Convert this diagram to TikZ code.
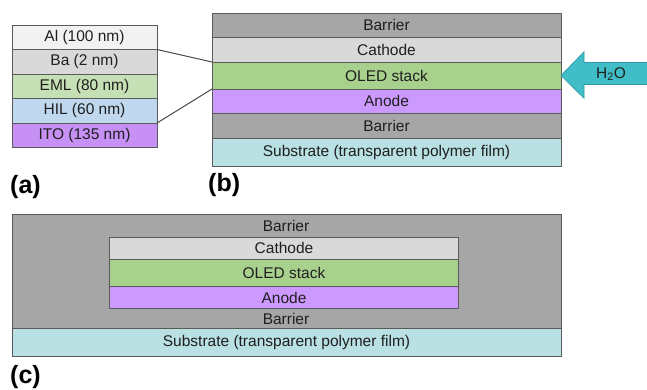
\documentclass[tikz,border=0pt]{standalone}
\usepackage{fontspec}
\setmainfont{Liberation Sans}
\definecolor{bordergray}{HTML}{5A5A5A}
\definecolor{barrier}{HTML}{A6A6A6}
\definecolor{cathode}{HTML}{D9D9D9}
\definecolor{oled}{HTML}{A9D18E}
\definecolor{anode}{HTML}{CC99FF}
\definecolor{substrate}{HTML}{B9E0E3}
\definecolor{al}{HTML}{F2F2F2}
\definecolor{eml}{HTML}{C5E0B4}
\definecolor{hil}{HTML}{C0D8EE}
\definecolor{ito}{HTML}{C690F5}
\definecolor{water}{HTML}{40BDC7}
\definecolor{waterdark}{HTML}{2E9AA4}
\definecolor{txt}{HTML}{1F1F1F}
\begin{document}
\begin{tikzpicture}[x=1pt,y=-1pt,
  layer/.style={draw=bordergray, line width=0.8pt, inner sep=0pt, outer sep=0pt,
    text=txt, font=\fontsize{15.5}{16}\selectfont},
  plain/.style={inner sep=0pt, text=txt, font=\fontsize{15.5}{16}\selectfont},
  panel/.style={inner sep=0pt, anchor=west, text=black, font=\fontsize{25}{26}\selectfont\bfseries},
  link/.style={draw=bordergray!80!black, line width=1pt}]
\useasboundingbox (0,0) rectangle (647,389);
% (a)
\node[layer, fill=al,  minimum width=145pt, minimum height=24.5pt] (al)  at (84.5,37.25) {Al (100 nm)};
\node[layer, fill=cathode, minimum width=145pt, minimum height=24.5pt] (ba)  at (84.5,61.75) {Ba (2 nm)};
\node[layer, fill=eml, minimum width=145pt, minimum height=24.5pt] (eml) at (84.5,86.25) {EML (80 nm)};
\node[layer, fill=hil, minimum width=145pt, minimum height=24.5pt] (hil) at (84.5,110.75) {HIL (60 nm)};
\node[layer, fill=ito, minimum width=145pt, minimum height=24.5pt] (ito) at (84.5,135.25) {ITO (135 nm)};
% (b)
\node[layer, fill=barrier,   minimum width=349pt, minimum height=24pt] (bb1) at (386.5,25) {Barrier};
\node[layer, fill=cathode,   minimum width=349pt, minimum height=25pt] (bca) at (386.5,49.5) {Cathode};
\node[layer, fill=oled,      minimum width=349pt, minimum height=27pt] (bol) at (386.5,75.5) {OLED stack};
\node[layer, fill=anode,     minimum width=349pt, minimum height=24pt] (ban) at (386.5,101) {Anode};
\node[layer, fill=barrier,   minimum width=349pt, minimum height=25pt] (bb2) at (386.5,125.5) {Barrier};
\node[layer, fill=substrate, minimum width=349pt, minimum height=28pt] (bsu) at (386.5,152) {Substrate (transparent polymer film)};
% connectors
\draw[link] (ba.north east) -- (bol.north west);
\draw[link] (ito.north east) -- (bol.south west);
% water arrow
\draw[fill=water, draw=waterdark, line width=0.6pt]
  (bol.east) -- (584,51.7) -- (584,62.5) -- (648,62.5) -- (648,84.5) -- (584,84.5) -- (584,98.3) -- cycle;
\node[plain] (h2o) at (611,74) {H\textsubscript{2}O};
% (c)
\node[layer, fill=barrier, minimum width=549pt, minimum height=114pt] (cba) at (286.5,271) {};
\node[layer, fill=substrate, minimum width=549pt, minimum height=28pt] (csu) at (286.5,342) {Substrate (transparent polymer film)};
\node[layer, fill=cathode, minimum width=349pt, minimum height=22pt] (cca) at (284,248) {Cathode};
\node[layer, fill=oled,    minimum width=349pt, minimum height=27.5pt] (col) at (284,272.75) {OLED stack};
\node[layer, fill=anode,   minimum width=349pt, minimum height=22pt] (can) at (284,297.5) {Anode};
\node[plain] (ctop) at (286,226) {Barrier};
\node[plain] (cbot) at (286,319) {Barrier};
% panel labels
\node[panel] (la) at (10,187) {(a)};
\node[panel] (lb) at (208,185) {(b)};
\node[panel] (lc) at (10,377) {(c)};
\end{tikzpicture}
\end{document}
